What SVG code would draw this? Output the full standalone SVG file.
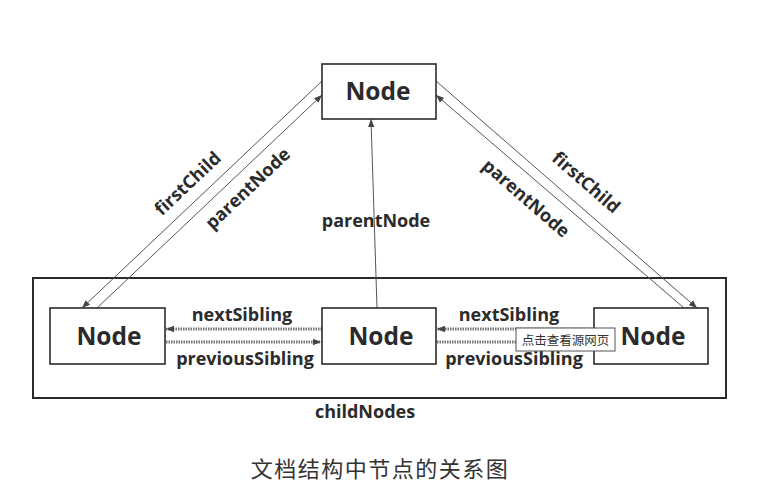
<svg xmlns="http://www.w3.org/2000/svg" width="780" height="502" viewBox="0 0 780 502">
<style>
.box{fill:#fff;stroke:#2b2b2b;stroke-width:1.6}
.nt{font-family:"Open Sans","DejaVu Sans",sans-serif;font-weight:bold;font-size:24.5px;fill:#2b2b2b;text-anchor:middle}
.lb{font-family:"Open Sans","DejaVu Sans",sans-serif;font-weight:bold;font-size:18px;fill:#2b2b2b;text-anchor:middle}
.ln{stroke:#555;stroke-width:1;fill:none}
.sib{stroke:#777;stroke-width:3;stroke-dasharray:1.5 1;fill:none}
</style>
<defs>
<marker id="ah" viewBox="0 0 10 10" refX="10" refY="5" markerWidth="8" markerHeight="8" markerUnits="userSpaceOnUse" orient="auto">
<path d="M0,1 L10,5 L0,9 z" fill="#444"/>
</marker>
</defs>
<rect width="780" height="502" fill="#fff"/>
<rect id="container" x="33" y="278" width="693" height="120" fill="none" stroke="#2b2b2b" stroke-width="2"/>
<g id="connectors">
<line class="ln" x1="322" y1="81" x2="82" y2="308" marker-end="url(#ah)"/>
<line class="ln" x1="97" y1="308" x2="322" y2="95" marker-end="url(#ah)"/>
<line class="ln" x1="436" y1="81" x2="697" y2="308" marker-end="url(#ah)"/>
<line class="ln" x1="684" y1="308" x2="436" y2="95" marker-end="url(#ah)"/>
<line class="ln" x1="377" y1="308" x2="371" y2="119" marker-end="url(#ah)"/>
<line class="sib" x1="322" y1="329" x2="166" y2="329" marker-end="url(#ah)"/>
<line class="sib" x1="166" y1="342" x2="321" y2="342" marker-end="url(#ah)"/>
<line class="sib" x1="594" y1="329" x2="437" y2="329" marker-end="url(#ah)"/>
<line class="sib" x1="437" y1="342" x2="593" y2="342" marker-end="url(#ah)"/>
<text class="lb" transform="translate(192,188) rotate(-43.4)">firstChild</text>
<text class="lb" transform="translate(252,193) rotate(-43.4)">parentNode</text>
<text class="lb" transform="translate(582,187) rotate(41)">firstChild</text>
<text class="lb" transform="translate(522,203) rotate(41)">parentNode</text>
<text class="lb" x="376" y="227">parentNode</text>
<text class="lb" x="242" y="321">nextSibling</text>
<text class="lb" x="245" y="365">previousSibling</text>
<text class="lb" x="509" y="321">nextSibling</text>
<text class="lb" x="514" y="365">previousSibling</text>
<text class="lb" x="365" y="418">childNodes</text>
</g>
<g id="node-top"><rect class="box" x="322" y="64" width="114" height="55"/><text class="nt" x="378" y="100">Node</text></g>
<g id="node-left"><rect class="box" x="50" y="308" width="115" height="56"/><text class="nt" x="109" y="345">Node</text></g>
<g id="node-mid"><rect class="box" x="322" y="308" width="114" height="56"/><text class="nt" x="381" y="345">Node</text></g>
<g id="node-right"><rect class="box" x="594" y="308" width="114" height="56"/><text class="nt" x="653" y="345">Node</text></g>
<g id="tooltip"><rect x="516" y="328" width="99" height="23" fill="#fff" stroke="#555" stroke-width="1"/><text x="565.5" y="344.5" font-family="'Noto Sans CJK SC',sans-serif" font-size="12.5" fill="#333" text-anchor="middle">点击查看源网页</text></g>
<text x="380" y="477" font-family="'Noto Sans CJK SC',sans-serif" font-size="22" letter-spacing="1.5" fill="#333" text-anchor="middle">文档结构中节点的关系图</text>
</svg>
